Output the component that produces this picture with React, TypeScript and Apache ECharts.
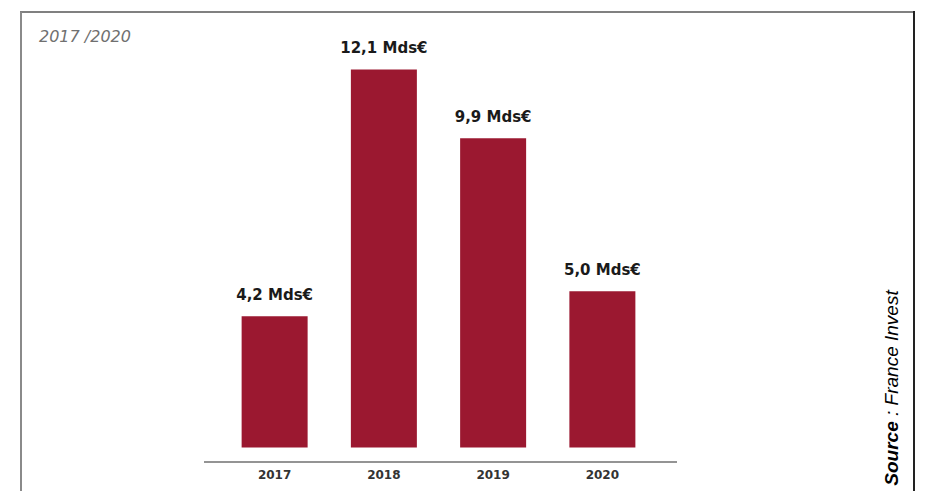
import React, { useEffect, useRef } from "react";
import * as echarts from "echarts";

const years = ["2017", "2018", "2019", "2020"];
const amounts = [4.2, 12.1, 9.9, 5.0];
const periodLabel = "2017 /2020";
const sourceLabel = "Source";
const sourceName = " : France Invest";

export default function App() {
  const ref = useRef<HTMLDivElement>(null);
  useEffect(() => {
    if (!ref.current) return;
    const chart = echarts.init(ref.current, null, { renderer: "svg" });
    chart.setOption({
      animation: false,
      backgroundColor: "#ffffff",
      grid: { left: 220, right: 275, top: 10, bottom: 43.5 },
      xAxis: {
        type: "category",
        data: years,
        axisLine: { show: false },
        axisTick: { show: false },
        axisLabel: {
          margin: 21,
          color: "#333333",
          fontFamily: "DejaVu Sans",
          fontWeight: "bold",
          fontSize: 12,
        },
      },
      yAxis: {
        type: "value",
        min: 0,
        max: 14,
        show: false,
        splitLine: { show: false },
      },
      series: [
        {
          type: "bar",
          data: amounts,
          barWidth: 66,
          itemStyle: { color: "#9b1830" },
          label: {
            show: true,
            position: "top",
            distance: 14,
            color: "#1a1a1a",
            fontFamily: "DejaVu Sans",
            fontWeight: "bold",
            fontSize: 15,
            formatter: (p: any) =>
              Number(p.value).toFixed(1).replace(".", ",") + " Mds€",
          },
        },
      ],
      graphic: [
        {
          type: "line",
          shape: { x1: 20, y1: 12, x2: 914, y2: 12 },
          style: { stroke: "#808080", lineWidth: 2 },
        },
        {
          type: "line",
          shape: { x1: 21, y1: 12, x2: 21, y2: 491 },
          style: { stroke: "#8a8a8a", lineWidth: 2 },
        },
        {
          type: "line",
          shape: { x1: 914, y1: 11, x2: 914, y2: 491 },
          style: { stroke: "#222222", lineWidth: 2 },
        },
        {
          type: "line",
          shape: { x1: 204, y1: 462, x2: 677, y2: 462 },
          style: { stroke: "#707070", lineWidth: 1.5 },
        },
        {
          type: "text",
          x: 39,
          y: 36,
          style: {
            text: periodLabel,
            fill: "#707070",
            fontFamily: "DejaVu Sans",
            fontStyle: "italic",
            fontWeight: 300,
            fontSize: 16,
            align: "left",
            verticalAlign: "middle",
          },
        },
        {
          type: "text",
          x: 891,
          y: 388,
          rotation: Math.PI / 2,
          style: {
            text: "{b|" + sourceLabel + "}{n|" + sourceName + "}",
            align: "center",
            verticalAlign: "middle",
            rich: {
              b: {
                fontFamily: "Liberation Sans",
                fontStyle: "italic",
                fontWeight: "bold",
                fontSize: 19,
                fill: "#000000",
              },
              n: {
                fontFamily: "Liberation Sans",
                fontStyle: "italic",
                fontSize: 19,
                fill: "#000000",
              },
            },
          },
        },
      ],
    });
    return () => chart.dispose();
  }, []);
  return (
    <div
      ref={ref}
      style={{ position: "fixed", left: 0, top: 0, width: 932, height: 491 }}
    />
  );
}
